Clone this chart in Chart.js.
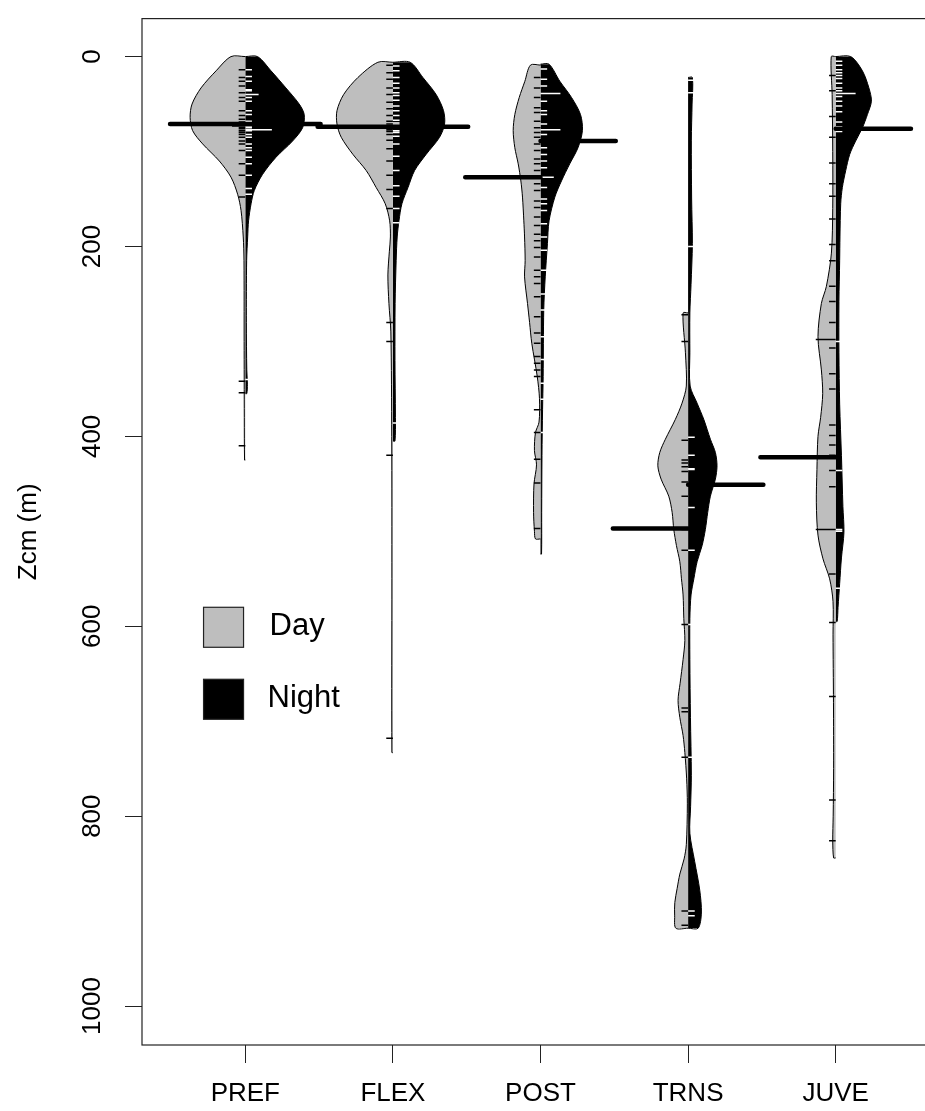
<!DOCTYPE html>
<html>
<head>
<meta charset="utf-8">
<script src="https://cdn.jsdelivr.net/npm/chart.js@4.4.0/dist/chart.umd.min.js"></script>
<style>
  html, body { margin: 0; padding: 0; background: #fff; overflow: hidden; }
  #wrap { position: relative; width: 945px; height: 1111px; }
</style>
</head>
<body>
<div id="wrap"><canvas id="beanchart"></canvas></div>
<script>
var groups = ['PREF', 'FLEX', 'POST', 'TRNS', 'JUVE'];
var yTicks = [0, 200, 400, 600, 800, 1000];
var legendLabels = ['Day', 'Night'];

// group averages (m), drawn as the thick bars
var dayMeans = [71, 74, 127, 497, 422];
var nightMeans = [71, 74, 89, 451, 76];

// bean outlines: depth (m) and half width (x units) for each side
var prefDayZ = [0, 15, 33, 50, 64, 78, 92, 110, 127, 145, 162, 190, 215, 300, 380, 425];
var prefDayW = [0.097, 0.198, 0.300, 0.361, 0.374, 0.357, 0.289, 0.176, 0.097, 0.052, 0.029, 0.014, 0.009, 0.008, 0.007, 0.005];
var prefNightZ = [0, 15, 33, 50, 61, 75, 89, 106, 124, 141, 155, 173, 190, 215, 280, 330, 345, 355];
var prefNightW = [0.083, 0.174, 0.275, 0.365, 0.399, 0.388, 0.320, 0.208, 0.117, 0.061, 0.039, 0.022, 0.016, 0.009, 0.007, 0.010, 0.014, 0.010];

var flexDayZ = [6, 22, 40, 57, 71, 85, 103, 120, 138, 155, 173, 190, 205, 230, 260, 290, 400, 550, 733];
var flexDayW = [0.102, 0.237, 0.334, 0.379, 0.379, 0.350, 0.271, 0.181, 0.113, 0.052, 0.022, 0.017, 0.024, 0.034, 0.027, 0.014, 0.008, 0.007, 0.007];
var flexNightZ = [6, 22, 40, 57, 71, 85, 103, 120, 138, 155, 173, 190, 215, 260, 320, 380, 405];
var flexNightW = [0.117, 0.203, 0.293, 0.343, 0.350, 0.316, 0.225, 0.147, 0.102, 0.061, 0.041, 0.029, 0.022, 0.015, 0.014, 0.017, 0.014];

var postDayZ = [9, 26, 43, 61, 78, 96, 113, 131, 148, 173, 190, 215, 232, 260, 280, 302, 337, 360, 385, 396, 415, 430, 450, 480, 500, 508];
var postDayW = [0.068, 0.106, 0.144, 0.174, 0.185, 0.174, 0.151, 0.133, 0.122, 0.113, 0.108, 0.104, 0.108, 0.088, 0.074, 0.059, 0.022, 0.007, 0.010, 0.034, 0.041, 0.027, 0.044, 0.047, 0.041, 0.034];
var postNightZ = [8, 26, 43, 61, 78, 96, 113, 131, 148, 173, 197, 232, 267, 337, 372, 420, 480, 524];
var postNightW = [0.058, 0.131, 0.210, 0.271, 0.284, 0.254, 0.198, 0.142, 0.097, 0.058, 0.047, 0.032, 0.022, 0.018, 0.014, 0.010, 0.008, 0.007];

var trnsDayZ = [270, 312, 347, 365, 382, 403, 417, 431, 445, 463, 480, 498, 515, 532, 550, 567, 592, 615, 635, 660, 678, 696, 715, 733, 760, 787, 830, 845, 861, 876, 891, 905, 918];
var trnsDayW = [0.034, 0.018, 0.012, 0.041, 0.086, 0.154, 0.192, 0.205, 0.183, 0.131, 0.108, 0.097, 0.079, 0.056, 0.045, 0.034, 0.029, 0.022, 0.034, 0.054, 0.068, 0.056, 0.034, 0.022, 0.010, 0.005, 0.012, 0.027, 0.056, 0.074, 0.090, 0.091, 0.083];
var trnsNightZ = [22, 50, 88, 150, 197, 240, 270, 312, 347, 365, 382, 403, 417, 431, 445, 463, 480, 498, 515, 532, 550, 567, 592, 635, 696, 757, 790, 818, 848, 878, 902, 918];
var trnsNightW = [0.029, 0.027, 0.022, 0.024, 0.029, 0.020, 0.012, 0.012, 0.014, 0.061, 0.106, 0.151, 0.185, 0.196, 0.185, 0.151, 0.133, 0.117, 0.095, 0.061, 0.039, 0.020, 0.012, 0.012, 0.016, 0.022, 0.017, 0.012, 0.045, 0.079, 0.090, 0.068];

var juveDayZ = [0, 40, 100, 160, 207, 242, 260, 295, 330, 355, 380, 400, 435, 470, 504, 529, 550, 574, 609, 680, 750, 800, 826, 844];
var juveDayW = [0.030, 0.024, 0.020, 0.020, 0.029, 0.063, 0.097, 0.120, 0.097, 0.088, 0.102, 0.120, 0.127, 0.131, 0.120, 0.086, 0.041, 0.018, 0.018, 0.015, 0.014, 0.017, 0.020, 0.014];
var juveNightZ = [0, 15, 33, 47, 61, 75, 89, 103, 120, 138, 155, 190, 215, 258, 312, 366, 420, 474, 501, 528, 555, 580, 595];
var juveNightW = [0.102, 0.181, 0.225, 0.242, 0.215, 0.181, 0.135, 0.095, 0.068, 0.045, 0.034, 0.029, 0.027, 0.022, 0.022, 0.027, 0.039, 0.049, 0.056, 0.039, 0.027, 0.016, 0.010];

// individual observations (m); repeated depths give longer bean lines
var prefDayObs = [14, 22, 26, 31, 38, 43, 47, 57, 62, 66, 69, 70, 71, 71, 73, 73, 75, 76, 78, 80, 82, 85, 89, 92, 99, 113, 125, 148, 342, 354, 410];
var prefNightObs = [14, 21, 26, 35, 36, 40, 40, 43, 47, 57, 61, 68, 71, 73, 75, 77, 77, 77, 77, 78, 82, 85, 92, 96, 99, 106, 113, 125, 139, 145, 340];
var flexDayObs = [9, 17, 24, 33, 40, 48, 55, 62, 68, 71, 73, 74, 75, 77, 79, 82, 88, 97, 110, 125, 140, 160, 280, 300, 420, 718];
var flexNightObs = [10, 15, 22, 28, 33, 38, 41, 46, 52, 57, 62, 67, 70, 72, 74, 75, 75, 75, 78, 80, 84, 92, 105, 120, 136, 147, 160, 175, 386];
var postDayObs = [22, 33, 43, 54, 59, 68, 75, 80, 85, 92, 99, 108, 113, 120, 127, 134, 141, 152, 159, 169, 178, 187, 194, 201, 211, 225, 232, 239, 253, 274, 291, 302, 316, 323, 330, 337, 372, 396, 424, 449, 497];
var postNightObs = [13, 24, 31, 39, 39, 39, 47, 57, 61, 71, 77, 77, 77, 82, 89, 96, 103, 110, 117, 127, 127, 138, 150, 155, 162, 176, 190, 204, 225, 250, 267, 295, 319, 344, 361, 396];
var trnsDayObs = [272, 300, 404, 425, 428, 432, 437, 448, 463, 498, 520, 598, 686, 690, 738, 900, 915];
var trnsNightObs = [25, 38, 200, 401, 420, 434, 435, 452, 475, 520, 598, 738, 900, 905];
var juveDayObs = [20, 36, 63, 85, 112, 134, 147, 171, 198, 215, 242, 258, 280, 298, 298, 298, 307, 334, 350, 388, 399, 409, 420, 436, 453, 498, 498, 498, 545, 596, 674, 783, 826];
var juveNightObs = [5, 9, 14, 17, 20, 23, 28, 33, 36, 39, 39, 39, 42, 47, 52, 58, 69, 74, 79, 300, 436, 498, 500, 560];

var dayBeans = [[prefDayZ, prefDayW], [flexDayZ, flexDayW], [postDayZ, postDayW], [trnsDayZ, trnsDayW], [juveDayZ, juveDayW]];
var nightBeans = [[prefNightZ, prefNightW], [flexNightZ, flexNightW], [postNightZ, postNightW], [trnsNightZ, trnsNightW], [juveNightZ, juveNightW]];
var dayObs = [prefDayObs, flexDayObs, postDayObs, trnsDayObs, juveDayObs];
var nightObs = [prefNightObs, flexNightObs, postNightObs, trnsNightObs, juveNightObs];

var dayGrey = '#bebebe';
var meanLen = 0.51;   // length of the average bars, x units
var lineLen = 0.045;  // bean line length per observation, x units

Chart.defaults.font.family = "'Liberation Sans', Arial, sans-serif";
Chart.defaults.color = '#000';

// one half of a bean, filled from its outline back to the centre line
function halfBean(pos, z, w, side, fillColor) {
  var pts = [{x: pos, y: z[0]}];
  for (var k = 0; k < z.length; k++) {
    pts.push({x: pos + side * w[k], y: z[k]});
  }
  pts.push({x: pos, y: z[z.length - 1]});
  return {
    data: pts,
    borderColor: '#000',
    borderWidth: 1,
    backgroundColor: fillColor,
    fill: {value: pos},
    tension: 0.3,
    pointRadius: 0,
    order: 3
  };
}

// short horizontal lines, one per observed depth
function beanLines(pos, obs, side, color) {
  var counts = {};
  obs.forEach(function (v) { counts[v] = (counts[v] || 0) + 1; });
  var pts = [];
  Object.keys(counts).forEach(function (k) {
    var v = +k;
    pts.push({x: pos, y: v}, {x: pos + side * counts[k] * lineLen, y: v}, {x: null, y: v});
  });
  return {
    data: pts,
    borderColor: color,
    borderWidth: 1.5,
    pointRadius: 0,
    fill: false,
    order: 2
  };
}

var datasets = [];
groups.forEach(function (g, i) {
  var pos = i + 1;
  datasets.push(halfBean(pos, dayBeans[i][0], dayBeans[i][1], -1, dayGrey));
  datasets.push(halfBean(pos, nightBeans[i][0], nightBeans[i][1], 1, '#000'));
  datasets.push(beanLines(pos, dayObs[i], -1, '#000'));
  datasets.push(beanLines(pos, nightObs[i], 1, '#fff'));
});

var meanPts = [];
groups.forEach(function (g, i) {
  var pos = i + 1;
  meanPts.push({x: pos - meanLen, y: dayMeans[i]}, {x: pos, y: dayMeans[i]}, {x: null, y: dayMeans[i]});
  meanPts.push({x: pos, y: nightMeans[i]}, {x: pos + meanLen, y: nightMeans[i]}, {x: null, y: nightMeans[i]});
});
datasets.push({
  data: meanPts,
  borderColor: '#000',
  borderWidth: 4.5,
  borderCapStyle: 'round',
  pointRadius: 0,
  fill: false,
  order: 1
});

// frame around the plotting region
var plotBox = {
  id: 'plotBox',
  afterDatasetsDraw: function (chart) {
    var a = chart.chartArea, ctx = chart.ctx;
    ctx.save();
    ctx.strokeStyle = '#222';
    ctx.lineWidth = 1.2;
    ctx.strokeRect(a.left, a.top, a.right - a.left, a.bottom - a.top);
    ctx.restore();
  }
};

// Day / Night key inside the plot
var beanKey = {
  id: 'beanKey',
  afterDraw: function (chart) {
    var ctx = chart.ctx;
    var x0 = chart.scales.x.getPixelForValue(0.717);
    var y0 = chart.scales.y.getPixelForValue(580);
    var fills = [dayGrey, '#000'];
    ctx.save();
    ctx.font = "31px 'Liberation Sans', Arial, sans-serif";
    ctx.textBaseline = 'alphabetic';
    legendLabels.forEach(function (lab, k) {
      var top = y0 + k * 72;
      ctx.fillStyle = fills[k];
      ctx.fillRect(x0, top, 40, 40);
      ctx.strokeStyle = '#222';
      ctx.lineWidth = 1.2;
      ctx.strokeRect(x0, top, 40, 40);
      ctx.fillStyle = '#000';
      ctx.fillText(lab, x0 + (k === 0 ? 66 : 64), top + 28);
    });
    ctx.restore();
  }
};

new Chart(document.getElementById('beanchart'), {
  type: 'line',
  data: { datasets: datasets },
  plugins: [plotBox, beanKey],
  options: {
    indexAxis: 'y',
    responsive: true,
    maintainAspectRatio: false,
    animation: false,
    layout: { padding: { top: 14, right: 6, left: 0, bottom: 0 } },
    plugins: {
      legend: { display: false },
      tooltip: { enabled: false }
    },
    scales: {
      x: {
        type: 'linear',
        position: 'bottom',
        min: 0.3,
        max: 5.7,
        afterBuildTicks: function (scale) {
          scale.ticks = groups.map(function (g, i) { return {value: i + 1}; });
        },
        afterFit: function (scale) { scale.height = 66; },
        ticks: {
          font: { size: 26 },
          color: '#000',
          padding: 15,
          maxRotation: 0,
          autoSkip: false,
          callback: function (v) { return groups[v - 1]; }
        },
        grid: { drawOnChartArea: false, tickLength: 18, tickColor: '#222' },
        border: { display: false }
      },
      y: {
        type: 'linear',
        reverse: true,
        min: -40,
        max: 1041,
        afterBuildTicks: function (scale) {
          scale.ticks = yTicks.map(function (v) { return {value: v}; });
        },
        afterFit: function (scale) { scale.width = 142; },
        ticks: {
          font: { size: 26 },
          color: '#000',
          padding: 3,
          minRotation: 90,
          maxRotation: 90,
          crossAlign: 'center',
          autoSkip: false,
          callback: function (v) { return String(v); }
        },
        title: {
          display: true,
          text: 'Zcm (m)',
          font: { size: 26 },
          color: '#000',
          padding: { top: 13, bottom: 0 }
        },
        grid: { drawOnChartArea: false, tickLength: 17, tickColor: '#222' },
        border: { display: false }
      }
    }
  }
});
</script>
</body>
</html>
